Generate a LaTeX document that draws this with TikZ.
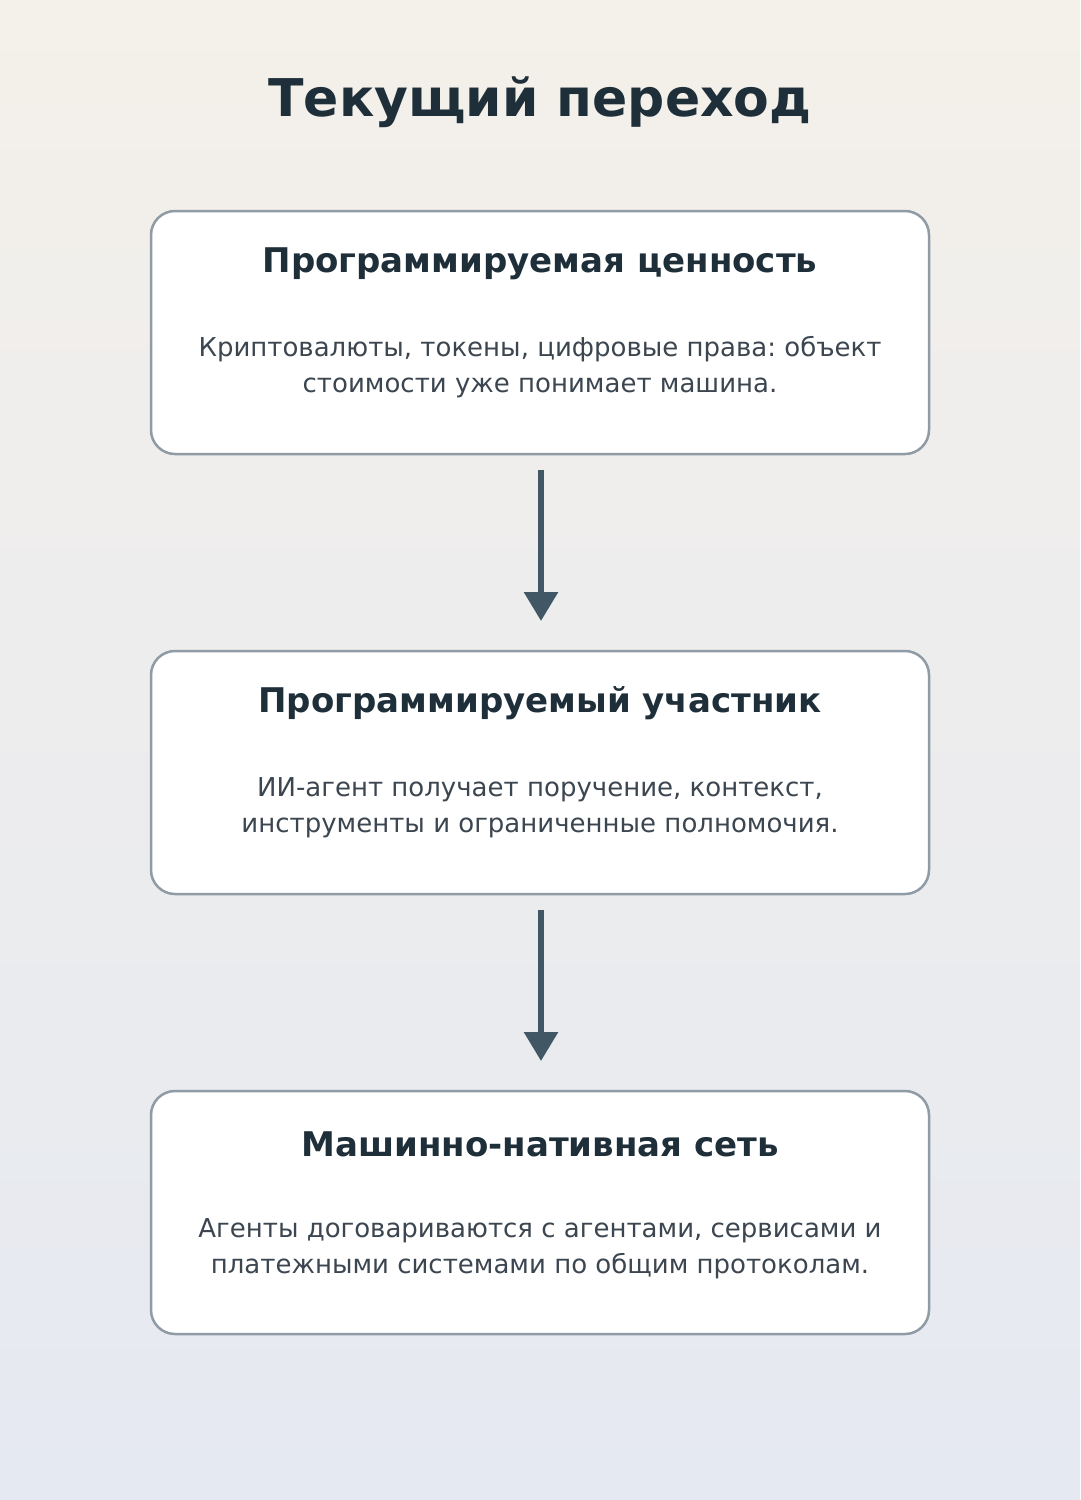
\documentclass[tikz,border=0pt]{standalone}
\usepackage{fontspec}
\setmainfont{DejaVu Sans}
\frenchspacing
\usetikzlibrary{arrows.meta}
\definecolor{bgtop}{HTML}{F4F0EA}
\definecolor{bgbot}{HTML}{E5E9F1}
\definecolor{titlec}{HTML}{1F2F3A}
\definecolor{bodyc}{HTML}{3C4650}
\definecolor{borderc}{HTML}{8F9BA5}
\definecolor{arrowc}{HTML}{415766}
\tikzset{
  card/.style={draw=borderc, line width=2.5pt, fill=white, rounded corners=24pt},
  titletext/.style={anchor=base, text=titlec, font=\fontsize{52}{60}\selectfont\bfseries},
  headtext/.style={anchor=base, text=titlec, font=\fontsize{34}{40}\selectfont\bfseries},
  bodytext/.style={anchor=base, text=bodyc, font=\fontsize{26}{36}\selectfont\frenchspacing},
  flow/.style={draw=arrowc, line width=6pt, -{Triangle[width=33pt,length=29pt]}}
}
\begin{document}
\begin{tikzpicture}[x=1pt,y=-1pt]
\useasboundingbox (0,0) rectangle (1080,1500);
\shade[top color=bgtop, bottom color=bgbot] (0,0) rectangle (1080,1500);
\node[titletext] (title) at (540,116) {Текущий переход};

\draw[card] (151,211) rectangle (929,454);
\node[headtext] (h1) at (540,272.5) {Программируемая ценность};
\node[bodytext] (b1a) at (540,356) {Криптовалюты, токены, цифровые права: объект};
\node[bodytext] (b1b) at (540,392) {стоимости уже понимает машина.};

\draw[card] (151,651) rectangle (929,894);
\node[headtext] (h2) at (540,712.5) {Программируемый участник};
\node[bodytext] (b2a) at (540,796) {ИИ-агент получает поручение, контекст,};
\node[bodytext] (b2b) at (540,832) {инструменты и ограниченные полномочия.};

\draw[card] (151,1091) rectangle (929,1334);
\node[headtext] (h3) at (540,1156) {Машинно-нативная сеть};
\node[bodytext] (b3a) at (540,1237) {Агенты договариваются с агентами, сервисами и};
\node[bodytext] (b3b) at (540,1273) {платежными системами по общим протоколам.};

\coordinate (a1s) at (541,470);
\coordinate (a1e) at (541,621);
\coordinate (a2s) at (541,910);
\coordinate (a2e) at (541,1061);
\draw[flow] (a1s) -- (a1e);
\draw[flow] (a2s) -- (a2e);
\end{tikzpicture}
\end{document}
